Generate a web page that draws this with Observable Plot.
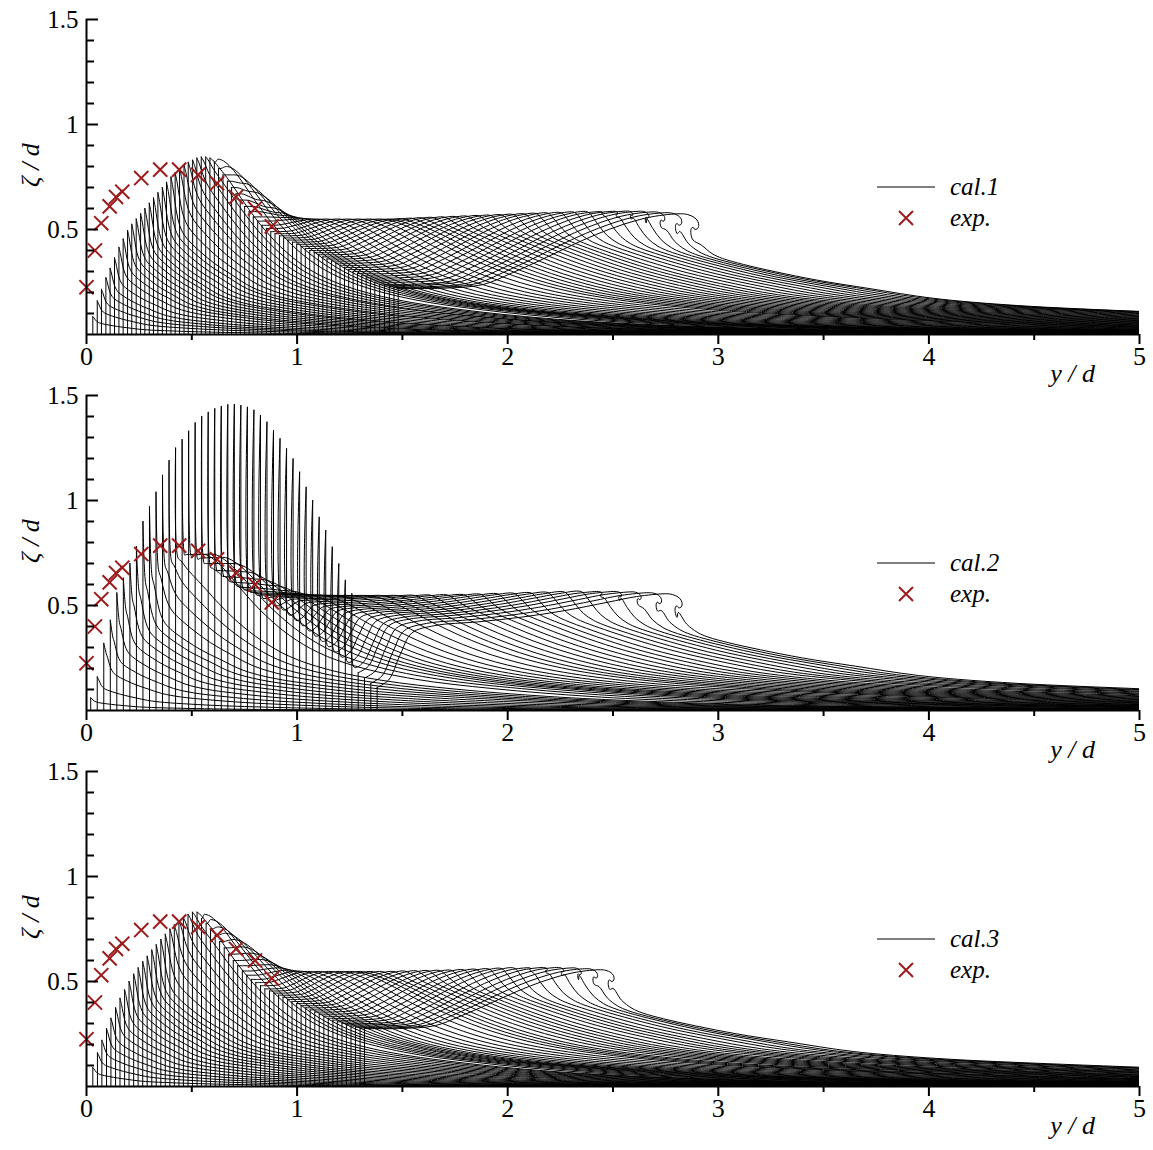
<!DOCTYPE html>
<html>
<head>
<meta charset="utf-8">
<script src="https://cdn.jsdelivr.net/npm/d3@7"></script>
<script src="https://cdn.jsdelivr.net/npm/@observablehq/plot@0.6"></script>
<style>
  body { margin: 0; background: #fff; }
  #chart { position: relative; width: 1153px; height: 1150px; }
  #chart svg { position: absolute; left: 0; }
</style>
</head>
<body>
<div id="chart"></div>
<script>
// ---------------------------------------------------------------
// Measured free-surface elevation (crosses), same in every panel
// ---------------------------------------------------------------
const expX = [0.0, 0.04, 0.07, 0.11, 0.14, 0.17, 0.26, 0.35, 0.44, 0.53, 0.62, 0.71, 0.80, 0.88];
const expY = [0.225, 0.40, 0.53, 0.61, 0.655, 0.68, 0.745, 0.785, 0.785, 0.76, 0.72, 0.655, 0.60, 0.515];

// Axis ticks
const xMajor = [0, 1, 2, 3, 4, 5];
const xMinor = [0.5, 1.5, 2.5, 3.5, 4.5];
const yMajor = [0.5, 1, 1.5];
const yMinor = [0.1, 0.2, 0.3, 0.4, 0.6, 0.7, 0.8, 0.9, 1.1, 1.2, 1.3, 1.4];

// Shared profile shapes: front of a wave (distance ahead of crest -> fraction of crest height)
const frontU     = [0, 0.03, 0.06, 0.1, 0.15, 0.2, 0.3, 0.45, 0.65, 0.9, 1.2, 1.6, 2.2, 3.0, 4.0, 5.0, 6.5, 9, 13];
const frontSharp = [1, 0.93, 0.84, 0.74, 0.67, 0.63, 0.58, 0.52, 0.45, 0.38, 0.30, 0.24, 0.19, 0.14, 0.10, 0.07, 0.04, 0.02, 0.008];
const frontRound = [1, 0.997, 0.99, 0.975, 0.95, 0.92, 0.85, 0.74, 0.61, 0.48, 0.37, 0.28, 0.20, 0.14, 0.09, 0.06, 0.035, 0.015, 0.005];
// Overturning tip of the breaking crest (offsets from the crest top)
const curlDX = [0.035, 0.065, 0.082, 0.087, 0.080, 0.068, 0.060, 0.052, 0.050, 0.060];
const curlDY = [-0.004, -0.017, -0.035, -0.056, -0.072, -0.074, -0.064, -0.070, -0.095, -0.125];
// Back face between wall and crest (fraction of the gap -> fraction of the rise)
const backS1 = [0, 0.15, 0.3, 0.4, 0.5, 0.6, 0.7, 0.8, 0.9, 1];
const backB1 = [0, 0, 0.05, 0.2, 0.37, 0.55, 0.72, 0.86, 0.96, 1];
const backS2 = [0, 0.04, 0.08, 0.12, 0.2, 0.35, 0.5, 0.65, 0.8, 0.9, 1];
const backB2 = [0, 0.08, 0.35, 0.58, 0.66, 0.70, 0.75, 0.82, 0.91, 0.97, 1];

// ---------------------------------------------------------------
// cal.1
// ---------------------------------------------------------------
const wallX1 = [0.030,0.051,0.071,0.092,0.112,0.133,0.154,0.174,0.195,0.215,0.236,0.257,0.277,0.298,0.318,0.339,0.360,0.380,0.401,0.421,0.442,0.463,0.483,0.504,0.524,0.545,0.566,0.586,0.607,0.627,0.648,0.669,0.689,0.710,0.730,0.751,0.772,0.792,0.813,0.833,0.854,0.875,0.895,0.916,0.936,0.957,0.978,0.998,1.019,1.039,1.060,1.081,1.101,1.122,1.142,1.163,1.184,1.204,1.225,1.245,1.266,1.287,1.307,1.328,1.348,1.369,1.392,1.415,1.438,1.460,1.480];
const wallH1 = [0.085,0.16,0.215,0.27,0.315,0.365,0.415,0.455,0.495,0.525,0.55,0.575,0.60,0.625,0.65,0.675,0.70,0.725,0.75,0.77,0.79,0.805,0.82,0.83,0.84,0.845,0.845,0.84,
  0.82,0.79,0.76,0.73,0.70,0.67,0.64,0.61,0.585,0.56,0.54,0.52,0.505,0.49,0.48,0.47,0.46,0.45,0.44,0.43,0.42,0.41,0.40,0.39,0.38,0.37,0.36,0.35,0.34,0.33,0.32,0.31,0.30,0.29,0.28,0.27,0.26,0.25,0.24,0.235,0.228,0.224,0.22];
const split1 = 28;
const crestX1 = [0.625,0.665,0.705,0.745,0.785,0.825,0.87,0.915,0.96,1.005,1.05,1.095,1.14,1.19,1.24,1.29,1.34,1.39,1.44,1.49,1.54,1.59,1.64,1.695,1.75,1.805,1.86,1.915,1.97,2.025,2.08,2.135,2.19,2.253,2.316,2.379,2.442,2.505,2.568,2.631,2.694,2.757,2.82];
const crestH1 = [0.835,0.80,0.76,0.72,0.68,0.64,0.605,0.58,0.565,0.556,0.552,0.55,0.55,0.55,0.55,0.55,0.55,0.55,0.55,0.552,0.554,0.556,0.558,0.56,0.562,0.564,0.566,0.568,0.57,0.572,0.574,0.576,0.578,0.58,0.582,0.584,0.586,0.587,0.588,0.587,0.584,0.58,0.575];
const frontLen1 = [0.18,0.19,0.20,0.20,0.21,0.22,0.23,0.24,0.24,0.25,0.26,0.27,0.28,0.28,0.29,0.30,0.31,0.32,0.32,0.33,0.34,0.35,0.36,0.36,0.37,0.38,0.39,0.40,
  0.42,0.44,0.46,0.48,0.50,0.52,0.54,0.56,0.58,0.60,0.62,0.64,0.66,0.68,0.70,0.72,0.74,0.76,
  0.77,0.78,0.79,0.80,0.81,0.82,0.83,0.84,0.85,0.86,0.87,0.88,0.89,0.90,0.91,0.92,0.93,0.94,0.95,0.96,0.97,0.98,0.99,1.00,1.00];
const sharp1 = [1,1,1,1,1,1,1,1,1,1,1,1,1,1,1,1,1,1,1,0.9,0.8,0.7,0.6,0.5,0.4,0.3,0.2,0.1,
  0,0,0,0,0,0,0,0,0,0,0,0,0,0,0,0,0,0,
  0.04,0.08,0.12,0.16,0.2,0.24,0.28,0.32,0.36,0.4,0.44,0.48,0.52,0.56,0.6,0.64,0.68,0.72,0.76,0.8,0.84,0.88,0.92,0.96,1];
const curl1 = [0.1,0.2,0.3,0.45,0.6,0.8,1.0];

// ---------------------------------------------------------------
// cal.2 (thin jets run up the wall)
// ---------------------------------------------------------------
const wallX2 = [0.020,0.051,0.082,0.113,0.144,0.175,0.206,0.237,0.268,0.299,0.330,0.361,0.392,0.423,0.454,0.485,0.516,0.547,0.578,0.609,0.640,0.671,0.702,0.733,0.764,0.795,0.826,0.857,0.888,0.919,0.950,0.981,1.012,1.043,1.074,1.105,1.136,1.167,1.198,1.229,1.260,1.290,1.320,1.350,1.380];
const jetH2 = [0,0,0.32,0.43,0.56,0.63,0.70,0.78,0.90,0.97,1.04,1.12,1.19,1.25,1.29,1.33,1.37,1.40,1.42,1.437,1.448,1.456,1.457,1.452,1.444,1.43,1.405,1.373,1.333,1.294,1.246,1.198,1.135,1.063,1.0,0.92,0.857,0.778,0.698,0.62,0.556,0,0,0,0];
const wallH2 = [0.06,0.16,0.27,0.35,0.42,0.48,0.53,0.57,0.61,0.64,0.67,0.69,0.71,0.725,
  0.74,0.735,0.72,0.70,0.68,0.66,0.64,0.62,0.60,0.58,0.565,0.55,0.535,0.52,0.50,0.48,0.455,0.43,0.405,0.38,0.355,0.33,0.305,0.28,0.255,0.23,0.205,0.18,0.155,0.13,0.11];
const split2 = 14;
const crestX2 = [0.55,0.595,0.645,0.70,0.76,0.825,0.89,0.96,1.03,1.10,1.17,1.245,1.32,1.395,1.47,1.55,1.63,1.71,1.79,1.87,1.95,2.03,2.11,2.19,2.27,2.35,2.43,2.51,2.59,2.67,2.75];
const crestH2 = [0.745,0.745,0.73,0.70,0.66,0.625,0.595,0.57,0.555,0.55,0.548,0.548,0.548,0.548,0.548,0.549,0.55,0.551,0.552,0.554,0.556,0.558,0.56,0.562,0.564,0.566,0.567,0.567,0.565,0.561,0.556];
const frontLen2 = [0.18,0.20,0.22,0.24,0.26,0.28,0.30,0.32,0.34,0.36,0.38,0.40,0.42,0.44,
  0.46,0.49,0.52,0.55,0.58,0.61,0.64,0.67,0.70,0.72,0.74,0.76,0.78,
  0.79,0.80,0.81,0.82,0.83,0.84,0.85,0.86,0.87,0.88,0.90,0.91,0.92,0.94,0.95,0.97,0.98,1.00];
const sharp2 = [1,1,1,1,1,1,1,1,1,1,0.8,0.6,0.4,0.2,
  0,0,0,0,0,0,0,0,0,0,0,0,0,
  0.06,0.11,0.17,0.22,0.28,0.33,0.39,0.44,0.5,0.56,0.61,0.67,0.72,0.78,0.83,0.89,0.94,1.0];
const curl2 = [0.2,0.35,0.5,0.7,0.9];

// ---------------------------------------------------------------
// cal.3
// ---------------------------------------------------------------
const wallX3 = [0.030,0.052,0.073,0.095,0.116,0.138,0.159,0.181,0.202,0.224,0.245,0.267,0.288,0.310,0.331,0.353,0.374,0.396,0.417,0.439,0.460,0.482,0.503,0.525,0.546,0.568,0.589,0.611,0.632,0.654,0.675,0.697,0.718,0.740,0.761,0.783,0.804,0.826,0.847,0.869,0.890,0.912,0.933,0.955,0.976,0.998,1.019,1.041,1.062,1.084,1.105,1.127,1.148,1.170,1.191,1.213,1.234,1.256,1.277,1.299,1.320];
const wallH3 = [0.09,0.16,0.22,0.275,0.325,0.375,0.42,0.46,0.50,0.535,0.565,0.595,0.62,0.65,0.675,0.70,0.725,0.75,0.77,0.79,0.805,0.82,0.83,0.83,
  0.80,0.775,0.75,0.72,0.69,0.66,0.63,0.60,0.575,0.55,0.53,0.51,0.495,0.48,0.465,0.455,0.445,0.435,0.425,0.415,0.405,0.395,0.385,0.375,0.365,0.355,0.345,0.335,0.325,0.316,0.308,0.30,0.294,0.288,0.283,0.279,0.276];
const split3 = 24;
const crestX3 = [0.56,0.59,0.625,0.66,0.70,0.74,0.78,0.825,0.87,0.915,0.96,1.005,1.05,1.10,1.15,1.20,1.25,1.30,1.35,1.40,1.455,1.51,1.565,1.62,1.675,1.73,1.79,1.85,1.91,1.97,2.03,2.10,2.17,2.24,2.31,2.375,2.44];
const crestH3 = [0.82,0.795,0.76,0.73,0.70,0.665,0.635,0.605,0.58,0.565,0.555,0.55,0.548,0.548,0.548,0.548,0.548,0.548,0.548,0.548,0.548,0.55,0.551,0.552,0.553,0.554,0.556,0.558,0.56,0.562,0.564,0.566,0.567,0.567,0.565,0.561,0.556];
const frontLen3 = [0.18,0.19,0.20,0.21,0.22,0.23,0.24,0.25,0.26,0.27,0.28,0.29,0.30,0.31,0.32,0.33,0.34,0.35,0.36,0.37,0.38,0.39,0.40,0.41,
  0.43,0.45,0.47,0.49,0.51,0.53,0.55,0.57,0.59,0.61,0.63,0.65,0.67,0.69,0.71,0.73,0.75,
  0.76,0.77,0.78,0.80,0.81,0.82,0.83,0.84,0.85,0.86,0.88,0.89,0.90,0.91,0.92,0.94,0.95,0.97,0.98,1.00];
const sharp3 = [1,1,1,1,1,1,1,1,1,1,1,1,1,1,1,1,0.89,0.78,0.67,0.56,0.44,0.33,0.22,0.11,
  0,0,0,0,0,0,0,0,0,0,0,0,0,0,0,0,0,
  0.05,0.1,0.15,0.2,0.25,0.3,0.35,0.4,0.45,0.5,0.55,0.6,0.65,0.7,0.75,0.8,0.85,0.9,0.95,1.0];
const curl3 = [0.1,0.2,0.3,0.45,0.6,0.75];

const expRows = expX.map((x, i) => ({x, y: expY[i]}));
const serif = "'Liberation Serif', 'Times New Roman', serif";
const ink = "#000";
const lineW = 1;
const red = "#9b1c1c";
const needleW = 0.012;

// Free-surface polylines, one per time step, built from the per-step wall/crest readings
function surfaceRows(p) {
  const rows = [];
  const n = p.wallX.length;
  const curlStart = n - p.curl.length;
  for (let k = 0; k < n; k++) {
    const xw = p.wallX[k], hw = p.wallH[k];
    const jet = p.jetH ? p.jetH[k] : 0;
    const sep = k >= p.split;
    const xc = sep ? p.crestX[k - p.split] : xw;
    const hc = sep ? p.crestH[k - p.split] : hw;
    const L = p.frontLen[k], a = p.sharp[k];
    const c = k >= curlStart ? p.curl[k - curlStart] : 0;
    const pts = [];
    if (jet > hw) pts.push([xw, jet], [xw + needleW, hw]);
    else pts.push([xw, hw]);
    const xb = pts[pts.length - 1][0];
    if (sep) {
      for (let j = 1; j < p.backS.length; j++) {
        pts.push([xb + (xc - xb) * p.backS[j], hw + (hc - hw) * p.backB[j]]);
      }
    }
    const x0 = Math.max(xc, pts[pts.length - 1][0]);
    if (c > 0) curlDX.forEach((dx, j) => pts.push([x0 + c * dx, hc + c * curlDY[j]]));
    const skip = c > 0 ? c * curlDX[curlDX.length - 1] : 0;
    for (let j = 1; j < frontU.length; j++) {
      const du = L * frontU[j];
      if (du <= skip) continue;
      pts.push([x0 + du, hc * (a * frontSharp[j] + (1 - a) * frontRound[j])]);
    }
    const last = pts[pts.length - 1];
    if (last[0] < 5) pts.push([5.02, last[1]]);
    pts.forEach(([x, y]) => rows.push({k, x, y}));
  }
  return rows;
}

function wallRows(p) {
  return p.wallX.map((x, k) => ({x, top: Math.max(p.wallH[k], p.jetH ? p.jetH[k] : 0)}));
}

function panel(p, name) {
  const svg = Plot.plot({
    width: 1153,
    height: 376,
    marginLeft: 86,
    marginRight: 14,
    marginTop: 19,
    marginBottom: 42,
    x: {domain: [0, 5], label: null},
    y: {domain: [0, 1.5], label: null},
    style: {background: "transparent", overflow: "visible", fontFamily: serif, color: "#000"},
    marks: [
      Plot.ruleX(wallRows(p), {x: "x", y1: 0, y2: "top", stroke: ink, strokeWidth: lineW}),
      Plot.line(surfaceRows(p), {x: "x", y: "y", z: "k", curve: "catmull-rom", stroke: ink, strokeWidth: lineW, clip: true}),
      Plot.dot(expRows, {x: "x", y: "y", symbol: "times", r: 6.5, stroke: red, strokeWidth: 2}),
      // axes
      Plot.ruleY([0], {stroke: "#000", strokeWidth: 2}),
      Plot.ruleX([0], {y1: 0, y2: 1.5, stroke: "#000", strokeWidth: 2}),
      Plot.axisX(xMajor, {label: null, tickSize: 10, tickPadding: 2, fontSize: 26, strokeWidth: 2, tickFormat: d => String(d)}),
      Plot.axisX(xMinor, {label: null, tickSize: 6, strokeWidth: 2, tickFormat: () => ""}),
      Plot.axisY(yMajor, {label: null, tickSize: 12, dx: 12, strokeWidth: 2, tickFormat: () => ""}),
      Plot.axisY(yMinor, {label: null, tickSize: 8, dx: 8, strokeWidth: 2, tickFormat: () => ""}),
      Plot.axisY(yMajor, {label: null, tickSize: 0, tickPadding: 8, fontSize: 25, tickFormat: d => String(d)}),
      Plot.text(["y / d"], {frameAnchor: "bottom-right", textAnchor: "middle", dx: -67, dy: 47, fontSize: 26, fontStyle: "italic", fill: "#000"}),
      Plot.text(["ζ / d"], {frameAnchor: "left", textAnchor: "middle", dx: -56, dy: -12, rotate: -90, fontSize: 26, fontStyle: "italic", fill: "#000"})
    ]
  });
  // legend
  const g = d3.select(svg).append("g")
    .attr("font-family", serif).attr("font-style", "italic").attr("font-size", 25)
    .attr("fill", "#000").attr("text-anchor", "start");
  g.append("line").attr("x1", 877).attr("x2", 935).attr("y1", 187).attr("y2", 187)
    .attr("stroke", ink).attr("stroke-width", 1);
  g.append("text").attr("x", 950).attr("y", 187).attr("dy", "0.32em").text(name);
  g.append("path").attr("transform", "translate(906,218)")
    .attr("d", "M-7,-7L7,7M-7,7L7,-7").attr("stroke", red).attr("stroke-width", 2).attr("fill", "none");
  g.append("text").attr("x", 950).attr("y", 218).attr("dy", "0.32em").text("exp.");
  return svg;
}

const panels = [
  panel({wallX: wallX1, wallH: wallH1, split: split1, crestX: crestX1, crestH: crestH1,
         frontLen: frontLen1, sharp: sharp1, curl: curl1, backS: backS1, backB: backB1}, "cal.1"),
  panel({wallX: wallX2, wallH: wallH2, jetH: jetH2, split: split2, crestX: crestX2, crestH: crestH2,
         frontLen: frontLen2, sharp: sharp2, curl: curl2, backS: backS2, backB: backB2}, "cal.2"),
  panel({wallX: wallX3, wallH: wallH3, split: split3, crestX: crestX3, crestH: crestH3,
         frontLen: frontLen3, sharp: sharp3, curl: curl3, backS: backS1, backB: backB1}, "cal.3")
];
const host = document.getElementById("chart");
panels.forEach((svg, i) => {
  svg.style.top = (i * 376) + "px";
  host.appendChild(svg);
});
</script>
</body>
</html>
